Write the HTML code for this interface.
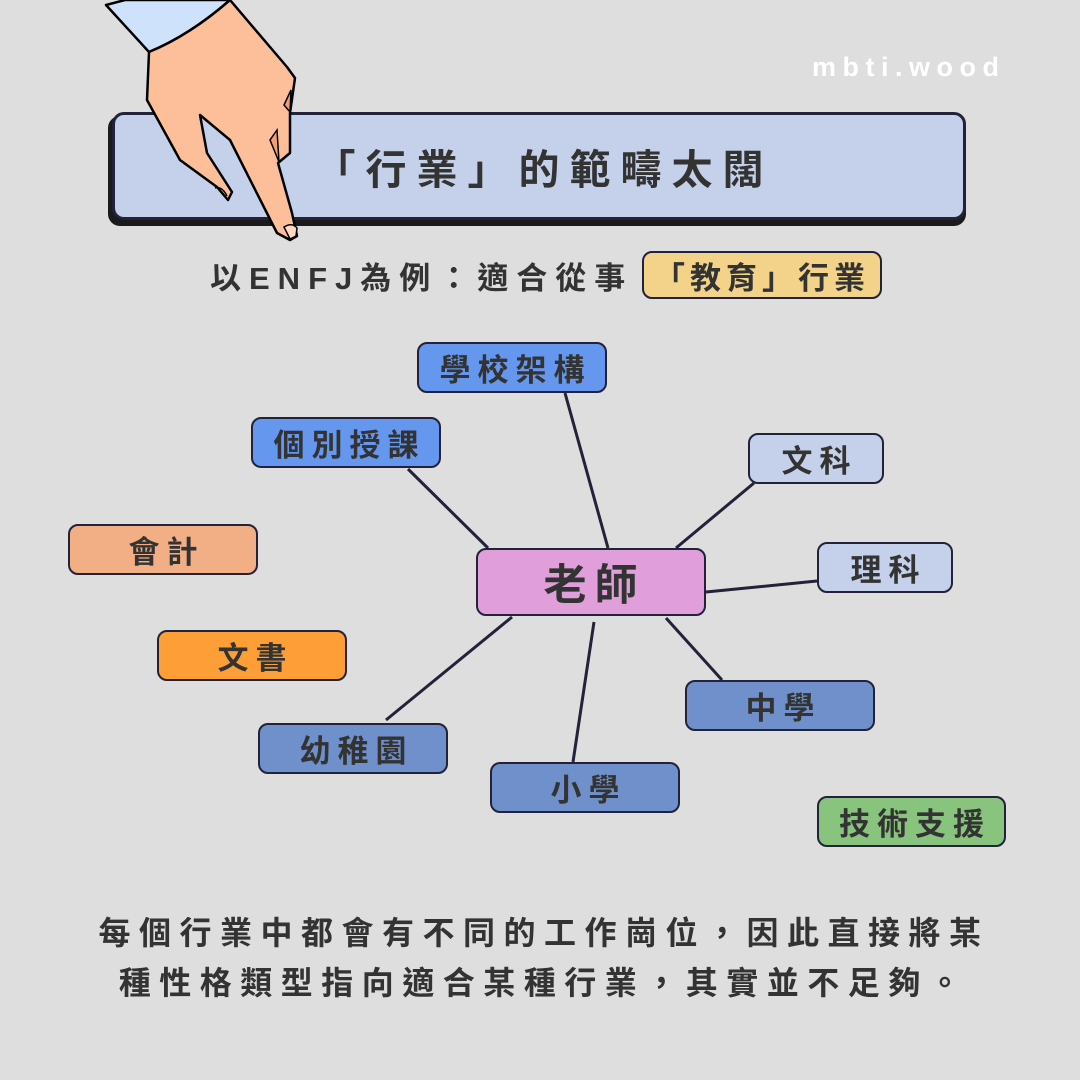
<!DOCTYPE html>
<html><head><meta charset="utf-8"><style>
*{margin:0;padding:0;box-sizing:border-box}
body{width:1080px;height:1080px;background:#dedede;position:relative;overflow:hidden;font-family:"Liberation Sans","Noto Sans CJK TC",sans-serif;font-weight:bold;color:#333}
.n{position:absolute;border:2.5px solid #22223a;border-radius:10px;display:flex;align-items:center;justify-content:center;font-size:31px;letter-spacing:7px;color:#333;padding-left:7px}
.t{position:absolute;white-space:nowrap}
</style></head><body>
<div class="t" style="left:812px;top:52px;font-size:27px;color:#fff;letter-spacing:6.5px">mbti.wood</div>
<div style="position:absolute;left:108px;top:116px;width:858px;height:110px;border-radius:12px;background:#1a1a1a"></div>
<div class="n" style="left:112px;top:112px;width:854px;height:108px;background:#c5d0ea;border-width:3px;border-radius:12px;font-size:41px;letter-spacing:10px;padding-left:10px">「行業」的範疇太闊</div>
<div class="t" style="left:210px;top:253px;font-size:31px;letter-spacing:8px">以ENFJ為例：適合從事</div>
<div class="n" style="left:642px;top:251px;width:240px;height:48px;background:#f3d38a;font-size:31px;letter-spacing:5px;padding-left:0">「教育」行業</div>
<svg style="position:absolute;left:0;top:0" width="1080" height="1080">
<g stroke="#22223a" stroke-width="3">
<line x1="565" y1="393" x2="608" y2="548"/><line x1="408" y1="469" x2="488" y2="548"/>
<line x1="754" y1="483" x2="676" y2="548"/><line x1="817" y1="581" x2="706" y2="592"/>
<line x1="512" y1="617" x2="386" y2="720"/><line x1="594" y1="622" x2="573" y2="762"/>
<line x1="666" y1="618" x2="722" y2="680"/></g></svg>
<div class="n" style="left:417px;top:342px;width:190px;height:51px;background:#6697ee">學校架構</div>
<div class="n" style="left:251px;top:417px;width:190px;height:51px;background:#6697ee">個別授課</div>
<div class="n" style="left:748px;top:433px;width:136px;height:51px;background:#c5d0ea">文科</div>
<div class="n" style="left:817px;top:542px;width:136px;height:51px;background:#c5d0ea">理科</div>
<div class="n" style="left:68px;top:524px;width:190px;height:51px;background:#f2ae85">會計</div>
<div class="n" style="left:476px;top:548px;width:230px;height:68px;background:#e09fdb;font-size:43px;letter-spacing:8px">老師</div>
<div class="n" style="left:157px;top:630px;width:190px;height:51px;background:#fd9e36">文書</div>
<div class="n" style="left:258px;top:723px;width:190px;height:51px;background:#7090cc">幼稚園</div>
<div class="n" style="left:685px;top:680px;width:190px;height:51px;background:#7090cc">中學</div>
<div class="n" style="left:490px;top:762px;width:190px;height:51px;background:#7090cc">小學</div>
<div class="n" style="left:817px;top:796px;width:189px;height:51px;background:#88c47e">技術支援</div>
<div class="t" style="left:0;width:1080px;text-align:center;top:908px;font-size:32px;letter-spacing:8.5px;line-height:50px;padding-left:8px">每個行業中都會有不同的工作崗位，因此直接將某<br>種性格類型指向適合某種行業，其實並不足夠。</div>
<svg style="position:absolute;left:0;top:0" width="400" height="260">
<path d="M106,5 L149,52 Q190,35 230,0 L125,0 Z" fill="#cfe2fb" stroke="#000" stroke-width="2.5" stroke-linejoin="round"/>
<path d="M149,52 L147,100 L180,160 L217,187 L228,200 L232,192 L207,153 L200,115 L230,140 L277,233 L290,240 L297,236 L292,213 L278,163 L290,153 L290,113 L295,78 L287,67 L230,0 Q190,35 149,52 Z" fill="#fdbf9a" stroke="#000" stroke-width="2.5" stroke-linejoin="round"/>
<path d="M291,90 L284,105 L290,112 Z" fill="#f0a070" stroke="#000" stroke-width="1.5"/>
<path d="M277,130 L270,140 L279,162 Z" fill="#f0a070" stroke="#000" stroke-width="1.5"/>
<path d="M284,227 Q292,222 297,228 L296,236 L290,239 Z" fill="#ffd9c0" stroke="#000" stroke-width="1.5"/>
<path d="M215,188 Q222,186 227,196" fill="none" stroke="#000" stroke-width="1.5"/>
</svg>
</body></html>
